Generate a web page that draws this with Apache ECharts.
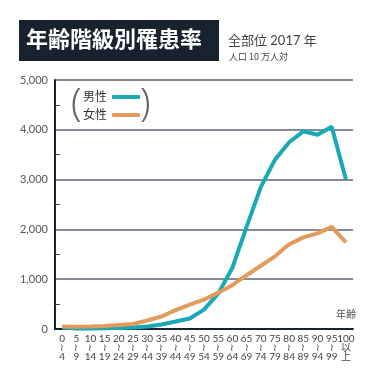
<!DOCTYPE html>
<html>
<head>
<meta charset="utf-8">
<script src="https://cdn.jsdelivr.net/npm/echarts@6/dist/echarts.min.js"></script>
<style>
html, body { margin: 0; padding: 0; background: #fff; }
#chart { width: 375px; height: 375px; }
</style>
</head>
<body>
<div id="chart"></div>
<script>
// 年齢階級（上段・下段）
var ageFrom = ["0", "5", "10", "15", "20", "25", "30", "35", "40", "45", "50",
               "55", "60", "65", "70", "75", "80", "85", "90", "95", "100"];
var ageTo = ["4", "9", "14", "19", "24", "29", "44", "39", "44", "49", "54",
             "59", "64", "69", "74", "79", "84", "89", "94", "99", "以上"];
// 罹患率（人口10万人対）
var male = [30, 10, 10, 15, 20, 30, 50, 90, 150, 210, 390,
            710, 1230, 2050, 2850, 3400, 3750, 3970, 3900, 4060, 3000];
var female = [50, 45, 50, 60, 80, 100, 170, 250, 380, 490, 590,
              730, 880, 1080, 1270, 1460, 1700, 1840, 1920, 2050, 1740];
var yTicks = [0, 1000, 2000, 3000, 4000, 5000];

var categories = ageFrom.map(function (a, i) { return a + "|" + ageTo[i]; });

var font = 'Lato, "Noto Sans CJK JP", sans-serif';
var dark = "#18212e";
var teal = "#19a8b6";
var orange = "#e39b5c";

var chart = echarts.init(document.getElementById("chart"), null, { renderer: "canvas" });

var option = {
    backgroundColor: "#fff",
    animation: false,
    grid: { left: 55, right: 22, top: 80, bottom: 46, containLabel: false },
    legend: {
        orient: "vertical",
        left: 83,
        top: 91,
        padding: 0,
        align: "right",
        itemWidth: 28,
        itemHeight: 4,
        itemGap: 6,
        icon: "roundRect",
        textStyle: { fontFamily: font, fontSize: 12, color: "#333" },
        data: ["男性", "女性"]
    },
    graphic: [
        { type: "rect", left: 19, top: 20, shape: { width: 200, height: 41 }, style: { fill: dark } },
        { type: "text", left: 26, top: 28, style: { text: "年齢階級別罹患率", fill: "#fff", font: 'bold 22px "Noto Sans CJK JP"' } },
        { type: "text", left: 228, top: 34, style: { text: "全部位 2017 年", fill: "#444", font: '13px ' + font } },
        { type: "text", left: 229, top: 52, style: { text: "人口 10 万人対", fill: "#444", font: '9px "Noto Sans CJK JP"' } },
        { type: "text", left: 71, top: 86, style: { text: "(", fill: "#666", font: '300 38px "Noto Sans"' } },
        { type: "text", left: 140, top: 86, style: { text: ")", fill: "#666", font: '300 38px "Noto Sans"' } },
        { type: "text", left: 336, top: 309, style: { text: "年齢", fill: "#555", font: '10px "Noto Sans CJK JP"' } }
    ],
    xAxis: {
        type: "category",
        data: categories,
        boundaryGap: true,
        axisLine: { lineStyle: { color: dark, width: 2 } },
        axisTick: { inside: true, length: 4, lineStyle: { color: dark, width: 1 } },
        axisLabel: {
            interval: 0,
            margin: 5,
            fontFamily: font,
            fontSize: 10,
            lineHeight: 9,
            color: "#444",
            formatter: function (v) {
                var p = v.split("|");
                if (p[1] === "以上") return p[0] + "\n以\n上";
                return p[0] + "\n≀\n" + p[1];
            }
        },
        splitLine: { show: false }
    },
    yAxis: {
        type: "value",
        min: yTicks[0],
        max: yTicks[yTicks.length - 1],
        interval: 1000,
        axisLine: { show: true, lineStyle: { color: dark, width: 2 } },
        axisTick: { show: false, inside: true },
        minorTick: { show: true, splitNumber: 2, length: 5, lineStyle: { color: "#444", width: 1 } },
        axisLabel: {
            margin: 7,
            fontFamily: font,
            fontSize: 11,
            color: "#555",
            formatter: function (v) { return v.toLocaleString("en-US"); }
        },
        splitLine: { show: true, lineStyle: { color: "#5d6572", width: 1.5 } }
    },
    series: [
        {
            name: "男性",
            type: "line",
            data: male,
            symbol: "none",
            z: 3,
            itemStyle: { color: teal },
            lineStyle: { color: teal, width: 4 }
        },
        {
            name: "女性",
            type: "line",
            data: female,
            symbol: "none",
            z: 4,
            itemStyle: { color: orange },
            lineStyle: { color: orange, width: 4 }
        }
    ]
};

chart.setOption(option);
</script>
</body>
</html>
